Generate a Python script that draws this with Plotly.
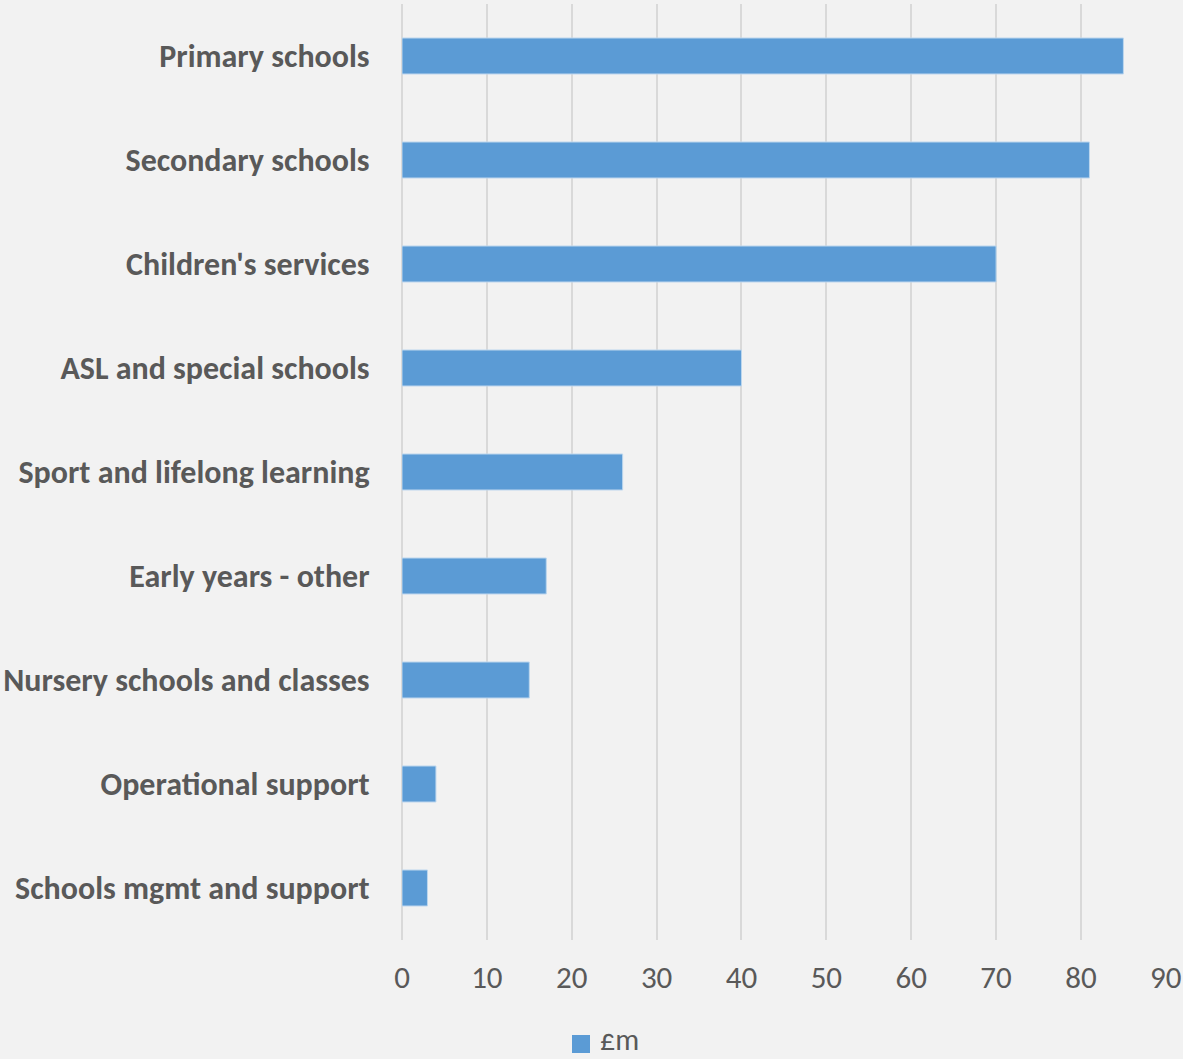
import plotly.graph_objects as go

# Education spending by service area (£m)
categories = [
    "Primary schools",
    "Secondary schools",
    "Children's services",
    "ASL and special schools",
    "Sport and lifelong learning",
    "Early years - other",
    "Nursery schools and classes",
    "Operational support",
    "Schools mgmt and support",
]
values_gbp_m = [85, 81, 70, 40, 26, 17, 15, 4, 3]
x_ticks = [0, 10, 20, 30, 40, 50, 60, 70, 80, 90]
series_name = "£m"

BG = "#f2f2f2"
BAR = "#5b9bd5"
GRID = "#d9d9d9"
TEXT = "#595959"
FONT = "Calibri, Carlito, Lato, sans-serif"

fig = go.Figure(
    go.Bar(
        y=categories,
        x=values_gbp_m,
        orientation="h",
        name=series_name,
        marker=dict(color=BAR, line=dict(color="#bdd7ee", width=1)),
        showlegend=False,
    )
)

# Legend key below the axis: a filled square plus the series name
fig.add_shape(
    type="rect",
    xref="paper", yref="paper",
    x0=0.2225, x1=0.2461, y0=-0.1207, y1=-0.1015,
    fillcolor=BAR, line=dict(width=0),
)
fig.add_annotation(
    xref="paper", yref="paper",
    x=0.2565, y=-0.1068,
    xanchor="left", yanchor="middle",
    text=series_name, showarrow=False,
    font=dict(size=30, color=TEXT, family=FONT),
)

fig.update_layout(
    width=1183,
    height=1059,
    paper_bgcolor=BG,
    plot_bgcolor=BG,
    margin=dict(l=402, r=17, t=4, b=119, autoexpand=False),
    bargap=0.654,
    font=dict(family=FONT, color=TEXT),
    showlegend=False,
)

fig.update_xaxes(
    range=[0, 90.02],
    tickvals=x_ticks,
    showgrid=True,
    gridcolor=GRID,
    gridwidth=1.5,
    zeroline=True,
    zerolinecolor=GRID,
    zerolinewidth=1.5,
    showline=False,
    ticks="outside",
    ticklen=10,
    tickcolor="rgba(0,0,0,0)",
    tickfont=dict(size=31, color=TEXT, family=FONT),
    fixedrange=True,
)

fig.update_yaxes(
    categoryorder="array",
    categoryarray=categories[::-1],
    showgrid=False,
    zeroline=False,
    showline=False,
    ticks="outside",
    ticklen=25,
    tickcolor="rgba(0,0,0,0)",
    tickfont=dict(size=32, color=TEXT, family=FONT, weight="bold"),
    fixedrange=True,
)

fig.write_html("out.html")
